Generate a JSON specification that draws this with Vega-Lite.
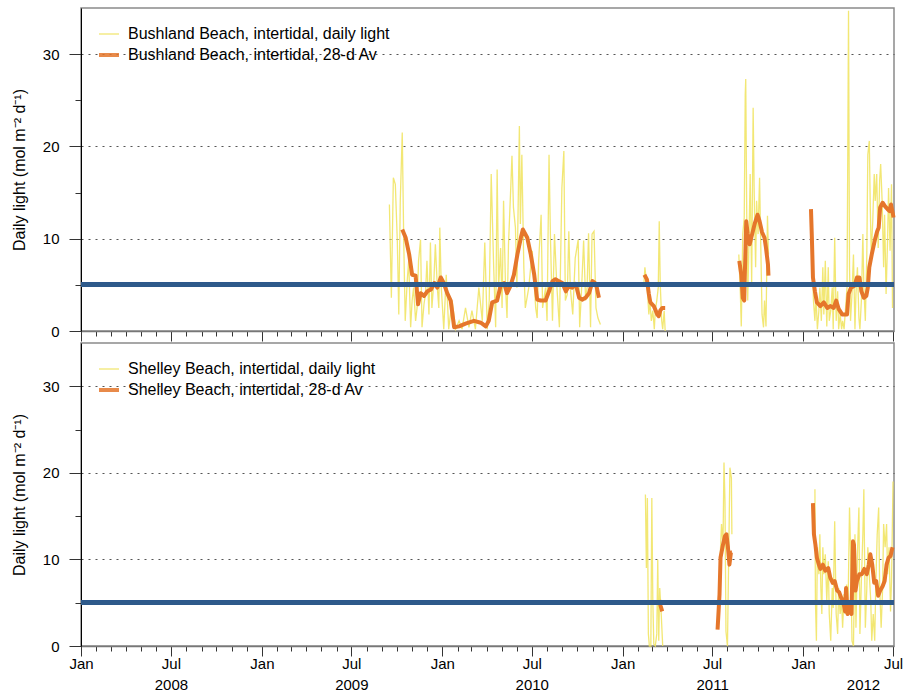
{
  "$schema": "https://vega.github.io/schema/vega-lite/v6.json",
  "background": "white",
  "padding": {"left": 10, "top": 7, "right": 2, "bottom": 0},
  "config": {
    "font": "Liberation Sans",
    "view": {"stroke": "#8a8a8a", "strokeWidth": 1.5},
    "axis": {"labelFont": "Liberation Sans", "labelFontSize": 15, "labelColor": "#000", "titleFont": "Liberation Sans", "titleFontSize": 16, "titleFontWeight": "normal", "titleColor": "#000"},
    "legend": {"labelFont": "Liberation Sans", "labelFontSize": 16, "labelColor": "#000", "labelLimit": 0}
  },
  "datasets": {
    "bushland": [
      {"series":"daily","seg":"A","date":"2009-09-16","value":13.7},
      {"series":"daily","seg":"A","date":"2009-09-20","value":3.6},
      {"series":"daily","seg":"A","date":"2009-09-24","value":16.6},
      {"series":"daily","seg":"A","date":"2009-09-28","value":15.9},
      {"series":"daily","seg":"A","date":"2009-10-02","value":9.8},
      {"series":"daily","seg":"A","date":"2009-10-05","value":1.8},
      {"series":"daily","seg":"A","date":"2009-10-08","value":14.1},
      {"series":"daily","seg":"A","date":"2009-10-12","value":21.5},
      {"series":"daily","seg":"A","date":"2009-10-15","value":9.8},
      {"series":"daily","seg":"A","date":"2009-10-18","value":1.1},
      {"series":"daily","seg":"A","date":"2009-10-22","value":5.4},
      {"series":"daily","seg":"A","date":"2009-10-25","value":7.6},
      {"series":"daily","seg":"A","date":"2009-10-29","value":0.4},
      {"series":"daily","seg":"A","date":"2009-11-01","value":3.3},
      {"series":"daily","seg":"A","date":"2009-11-04","value":4.7},
      {"series":"daily","seg":"A","date":"2009-11-08","value":1.1},
      {"series":"daily","seg":"A","date":"2009-11-11","value":2.5},
      {"series":"daily","seg":"A","date":"2009-11-14","value":7.6},
      {"series":"daily","seg":"A","date":"2009-11-18","value":9.9},
      {"series":"daily","seg":"A","date":"2009-11-21","value":0.4},
      {"series":"daily","seg":"A","date":"2009-11-25","value":2.9},
      {"series":"daily","seg":"A","date":"2009-11-28","value":4.0},
      {"series":"daily","seg":"A","date":"2009-12-01","value":7.6},
      {"series":"daily","seg":"A","date":"2009-12-05","value":1.8},
      {"series":"daily","seg":"A","date":"2009-12-08","value":9.6},
      {"series":"daily","seg":"A","date":"2009-12-11","value":2.5},
      {"series":"daily","seg":"A","date":"2009-12-15","value":5.4},
      {"series":"daily","seg":"A","date":"2009-12-18","value":9.4},
      {"series":"daily","seg":"A","date":"2009-12-22","value":4.7},
      {"series":"daily","seg":"A","date":"2009-12-25","value":2.5},
      {"series":"daily","seg":"A","date":"2009-12-27","value":11.2},
      {"series":"daily","seg":"A","date":"2009-12-30","value":4.7},
      {"series":"daily","seg":"A","date":"2010-01-04","value":0.2},
      {"series":"daily","seg":"A","date":"2010-01-09","value":6.1},
      {"series":"daily","seg":"A","date":"2010-01-14","value":0.2},
      {"series":"daily","seg":"A","date":"2010-01-21","value":3.3},
      {"series":"daily","seg":"A","date":"2010-01-28","value":0.2},
      {"series":"daily","seg":"A","date":"2010-02-04","value":1.1},
      {"series":"daily","seg":"A","date":"2010-02-10","value":0.2},
      {"series":"daily","seg":"A","date":"2010-02-17","value":2.5},
      {"series":"daily","seg":"A","date":"2010-02-24","value":0.4},
      {"series":"daily","seg":"A","date":"2010-03-02","value":2.2},
      {"series":"daily","seg":"A","date":"2010-03-09","value":0.2},
      {"series":"daily","seg":"A","date":"2010-03-16","value":4.7},
      {"series":"daily","seg":"A","date":"2010-03-23","value":1.1},
      {"series":"daily","seg":"A","date":"2010-03-28","value":9.6},
      {"series":"daily","seg":"A","date":"2010-04-02","value":0.2},
      {"series":"daily","seg":"A","date":"2010-04-06","value":3.3},
      {"series":"daily","seg":"A","date":"2010-04-10","value":17.0},
      {"series":"daily","seg":"A","date":"2010-04-15","value":6.9},
      {"series":"daily","seg":"A","date":"2010-04-19","value":0.4},
      {"series":"daily","seg":"A","date":"2010-04-22","value":17.5},
      {"series":"daily","seg":"A","date":"2010-04-25","value":4.7},
      {"series":"daily","seg":"A","date":"2010-04-29","value":9.0},
      {"series":"daily","seg":"A","date":"2010-05-02","value":2.5},
      {"series":"daily","seg":"A","date":"2010-05-05","value":14.1},
      {"series":"daily","seg":"A","date":"2010-05-09","value":4.7},
      {"series":"daily","seg":"A","date":"2010-05-12","value":1.4},
      {"series":"daily","seg":"A","date":"2010-05-15","value":9.4},
      {"series":"daily","seg":"A","date":"2010-05-19","value":14.8},
      {"series":"daily","seg":"A","date":"2010-05-22","value":19.0},
      {"series":"daily","seg":"A","date":"2010-05-25","value":13.4},
      {"series":"daily","seg":"A","date":"2010-05-29","value":11.2},
      {"series":"daily","seg":"A","date":"2010-06-01","value":4.7},
      {"series":"daily","seg":"A","date":"2010-06-06","value":22.2},
      {"series":"daily","seg":"A","date":"2010-06-08","value":11.6},
      {"series":"daily","seg":"A","date":"2010-06-11","value":19.1},
      {"series":"daily","seg":"A","date":"2010-06-15","value":6.9},
      {"series":"daily","seg":"A","date":"2010-06-18","value":2.5},
      {"series":"daily","seg":"A","date":"2010-06-25","value":4.7},
      {"series":"daily","seg":"A","date":"2010-07-02","value":8.7},
      {"series":"daily","seg":"A","date":"2010-07-09","value":2.5},
      {"series":"daily","seg":"A","date":"2010-07-12","value":1.4},
      {"series":"daily","seg":"A","date":"2010-07-15","value":7.6},
      {"series":"daily","seg":"A","date":"2010-07-20","value":12.6},
      {"series":"daily","seg":"A","date":"2010-07-23","value":2.5},
      {"series":"daily","seg":"A","date":"2010-07-29","value":4.7},
      {"series":"daily","seg":"A","date":"2010-08-01","value":1.1},
      {"series":"daily","seg":"A","date":"2010-08-05","value":19.1},
      {"series":"daily","seg":"A","date":"2010-08-08","value":9.8},
      {"series":"daily","seg":"A","date":"2010-08-12","value":1.1},
      {"series":"daily","seg":"A","date":"2010-08-16","value":10.5},
      {"series":"daily","seg":"A","date":"2010-08-21","value":4.7},
      {"series":"daily","seg":"A","date":"2010-08-26","value":0.4},
      {"series":"daily","seg":"A","date":"2010-08-31","value":15.5},
      {"series":"daily","seg":"A","date":"2010-09-04","value":19.5},
      {"series":"daily","seg":"A","date":"2010-09-07","value":3.3},
      {"series":"daily","seg":"A","date":"2010-09-11","value":4.0},
      {"series":"daily","seg":"A","date":"2010-09-14","value":10.8},
      {"series":"daily","seg":"A","date":"2010-09-17","value":4.7},
      {"series":"daily","seg":"A","date":"2010-09-22","value":1.8},
      {"series":"daily","seg":"A","date":"2010-09-27","value":7.9},
      {"series":"daily","seg":"A","date":"2010-10-03","value":9.9},
      {"series":"daily","seg":"A","date":"2010-10-06","value":0.4},
      {"series":"daily","seg":"A","date":"2010-10-10","value":4.7},
      {"series":"daily","seg":"A","date":"2010-10-14","value":9.8},
      {"series":"daily","seg":"A","date":"2010-10-18","value":3.3},
      {"series":"daily","seg":"A","date":"2010-10-21","value":4.7},
      {"series":"daily","seg":"A","date":"2010-10-24","value":10.6},
      {"series":"daily","seg":"A","date":"2010-10-28","value":0.4},
      {"series":"daily","seg":"A","date":"2010-10-31","value":10.5},
      {"series":"daily","seg":"A","date":"2010-11-04","value":10.8},
      {"series":"daily","seg":"A","date":"2010-11-08","value":2.5},
      {"series":"daily","seg":"A","date":"2010-11-12","value":1.4},
      {"series":"daily","seg":"A","date":"2010-11-17","value":0.7},
      {"series":"daily","seg":"B","date":"2011-02-13","value":5.1},
      {"series":"daily","seg":"B","date":"2011-02-15","value":6.9},
      {"series":"daily","seg":"B","date":"2011-02-17","value":5.8},
      {"series":"daily","seg":"B","date":"2011-02-20","value":4.3},
      {"series":"daily","seg":"B","date":"2011-02-23","value":1.8},
      {"series":"daily","seg":"B","date":"2011-02-25","value":3.3},
      {"series":"daily","seg":"B","date":"2011-02-28","value":1.1},
      {"series":"daily","seg":"B","date":"2011-03-03","value":2.2},
      {"series":"daily","seg":"B","date":"2011-03-06","value":0.2},
      {"series":"daily","seg":"B","date":"2011-03-08","value":2.2},
      {"series":"daily","seg":"B","date":"2011-03-11","value":3.3},
      {"series":"daily","seg":"B","date":"2011-03-14","value":4.7},
      {"series":"daily","seg":"B","date":"2011-03-16","value":11.9},
      {"series":"daily","seg":"B","date":"2011-03-18","value":5.1},
      {"series":"daily","seg":"B","date":"2011-03-21","value":1.1},
      {"series":"daily","seg":"B","date":"2011-03-23","value":0.2},
      {"series":"daily","seg":"B","date":"2011-03-26","value":2.2},
      {"series":"daily","seg":"B","date":"2011-03-28","value":0.0},
      {"series":"daily","seg":"C","date":"2011-08-24","value":8.3},
      {"series":"daily","seg":"C","date":"2011-08-27","value":4.3},
      {"series":"daily","seg":"C","date":"2011-08-29","value":0.5},
      {"series":"daily","seg":"C","date":"2011-09-01","value":10.5},
      {"series":"daily","seg":"C","date":"2011-09-04","value":12.3},
      {"series":"daily","seg":"C","date":"2011-09-06","value":25.6},
      {"series":"daily","seg":"C","date":"2011-09-07","value":27.3},
      {"series":"daily","seg":"C","date":"2011-09-09","value":12.6},
      {"series":"daily","seg":"C","date":"2011-09-11","value":3.3},
      {"series":"daily","seg":"C","date":"2011-09-13","value":8.3},
      {"series":"daily","seg":"C","date":"2011-09-16","value":17.0},
      {"series":"daily","seg":"C","date":"2011-09-19","value":5.1},
      {"series":"daily","seg":"C","date":"2011-09-22","value":24.2},
      {"series":"daily","seg":"C","date":"2011-09-24","value":15.5},
      {"series":"daily","seg":"C","date":"2011-09-27","value":6.9},
      {"series":"daily","seg":"C","date":"2011-09-29","value":14.1},
      {"series":"daily","seg":"C","date":"2011-10-02","value":10.5},
      {"series":"daily","seg":"C","date":"2011-10-05","value":16.6},
      {"series":"daily","seg":"C","date":"2011-10-07","value":10.5},
      {"series":"daily","seg":"C","date":"2011-10-10","value":1.8},
      {"series":"daily","seg":"C","date":"2011-10-13","value":0.4},
      {"series":"daily","seg":"C","date":"2011-10-15","value":3.3},
      {"series":"daily","seg":"C","date":"2011-10-18","value":0.5},
      {"series":"daily","seg":"C","date":"2011-10-21","value":12.5},
      {"series":"daily","seg":"C","date":"2011-10-23","value":8.3},
      {"series":"daily","seg":"D","date":"2012-01-19","value":10.5},
      {"series":"daily","seg":"D","date":"2012-01-22","value":3.3},
      {"series":"daily","seg":"D","date":"2012-01-25","value":1.1},
      {"series":"daily","seg":"D","date":"2012-01-27","value":4.0},
      {"series":"daily","seg":"D","date":"2012-01-30","value":0.2},
      {"series":"daily","seg":"D","date":"2012-02-02","value":2.2},
      {"series":"daily","seg":"D","date":"2012-02-04","value":4.7},
      {"series":"daily","seg":"D","date":"2012-02-07","value":1.1},
      {"series":"daily","seg":"D","date":"2012-02-10","value":6.9},
      {"series":"daily","seg":"D","date":"2012-02-12","value":1.8},
      {"series":"daily","seg":"D","date":"2012-02-15","value":7.6},
      {"series":"daily","seg":"D","date":"2012-02-18","value":0.5},
      {"series":"daily","seg":"D","date":"2012-02-21","value":6.9},
      {"series":"daily","seg":"D","date":"2012-02-23","value":1.1},
      {"series":"daily","seg":"D","date":"2012-02-26","value":2.2},
      {"series":"daily","seg":"D","date":"2012-02-29","value":4.7},
      {"series":"daily","seg":"D","date":"2012-03-02","value":0.2},
      {"series":"daily","seg":"D","date":"2012-03-05","value":10.1},
      {"series":"daily","seg":"D","date":"2012-03-08","value":1.1},
      {"series":"daily","seg":"D","date":"2012-03-11","value":4.3},
      {"series":"daily","seg":"D","date":"2012-03-13","value":0.2},
      {"series":"daily","seg":"D","date":"2012-03-16","value":1.8},
      {"series":"daily","seg":"D","date":"2012-03-19","value":0.2},
      {"series":"daily","seg":"D","date":"2012-03-21","value":1.1},
      {"series":"daily","seg":"D","date":"2012-03-24","value":0.2},
      {"series":"daily","seg":"D","date":"2012-03-27","value":2.5},
      {"series":"daily","seg":"D","date":"2012-03-30","value":4.7},
      {"series":"daily","seg":"D","date":"2012-04-02","value":34.7},
      {"series":"daily","seg":"D","date":"2012-04-04","value":6.9},
      {"series":"daily","seg":"D","date":"2012-04-06","value":1.1},
      {"series":"daily","seg":"D","date":"2012-04-09","value":4.0},
      {"series":"daily","seg":"D","date":"2012-04-12","value":8.3},
      {"series":"daily","seg":"D","date":"2012-04-15","value":0.2},
      {"series":"daily","seg":"D","date":"2012-04-17","value":4.0},
      {"series":"daily","seg":"D","date":"2012-04-20","value":6.9},
      {"series":"daily","seg":"D","date":"2012-04-23","value":1.4},
      {"series":"daily","seg":"D","date":"2012-04-25","value":0.2},
      {"series":"daily","seg":"D","date":"2012-04-28","value":3.3},
      {"series":"daily","seg":"D","date":"2012-05-01","value":10.5},
      {"series":"daily","seg":"D","date":"2012-05-03","value":4.7},
      {"series":"daily","seg":"D","date":"2012-05-06","value":1.1},
      {"series":"daily","seg":"D","date":"2012-05-09","value":8.3},
      {"series":"daily","seg":"D","date":"2012-05-11","value":19.1},
      {"series":"daily","seg":"D","date":"2012-05-14","value":20.6},
      {"series":"daily","seg":"D","date":"2012-05-16","value":13.4},
      {"series":"daily","seg":"D","date":"2012-05-18","value":8.3},
      {"series":"daily","seg":"D","date":"2012-05-21","value":11.9},
      {"series":"daily","seg":"D","date":"2012-05-24","value":17.0},
      {"series":"daily","seg":"D","date":"2012-05-26","value":14.1},
      {"series":"daily","seg":"D","date":"2012-05-29","value":17.0},
      {"series":"daily","seg":"D","date":"2012-06-01","value":9.0},
      {"series":"daily","seg":"D","date":"2012-06-04","value":16.3},
      {"series":"daily","seg":"D","date":"2012-06-06","value":18.1},
      {"series":"daily","seg":"D","date":"2012-06-09","value":14.1},
      {"series":"daily","seg":"D","date":"2012-06-12","value":6.9},
      {"series":"daily","seg":"D","date":"2012-06-14","value":12.6},
      {"series":"daily","seg":"D","date":"2012-06-17","value":4.0},
      {"series":"daily","seg":"D","date":"2012-06-20","value":9.8},
      {"series":"daily","seg":"D","date":"2012-06-22","value":15.5},
      {"series":"daily","seg":"D","date":"2012-06-25","value":8.7},
      {"series":"daily","seg":"D","date":"2012-06-28","value":15.9},
      {"series":"daily","seg":"D","date":"2012-06-30","value":2.5},
      {"series":"avg","seg":"A","date":"2009-10-12","value":11.0},
      {"series":"avg","seg":"A","date":"2009-10-19","value":10.1},
      {"series":"avg","seg":"A","date":"2009-10-26","value":8.3},
      {"series":"avg","seg":"A","date":"2009-11-01","value":6.1},
      {"series":"avg","seg":"A","date":"2009-11-08","value":6.0},
      {"series":"avg","seg":"A","date":"2009-11-13","value":2.9},
      {"series":"avg","seg":"A","date":"2009-11-18","value":4.1},
      {"series":"avg","seg":"A","date":"2009-11-25","value":3.8},
      {"series":"avg","seg":"A","date":"2009-12-02","value":4.3},
      {"series":"avg","seg":"A","date":"2009-12-09","value":4.5},
      {"series":"avg","seg":"A","date":"2009-12-16","value":5.2},
      {"series":"avg","seg":"A","date":"2009-12-22","value":4.7},
      {"series":"avg","seg":"A","date":"2009-12-29","value":5.8},
      {"series":"avg","seg":"A","date":"2010-01-04","value":5.2},
      {"series":"avg","seg":"A","date":"2010-01-11","value":4.1},
      {"series":"avg","seg":"A","date":"2010-01-18","value":3.3},
      {"series":"avg","seg":"A","date":"2010-01-25","value":0.4},
      {"series":"avg","seg":"A","date":"2010-02-04","value":0.5},
      {"series":"avg","seg":"A","date":"2010-02-17","value":0.8},
      {"series":"avg","seg":"A","date":"2010-03-06","value":1.1},
      {"series":"avg","seg":"A","date":"2010-03-20","value":0.9},
      {"series":"avg","seg":"A","date":"2010-03-30","value":0.5},
      {"series":"avg","seg":"A","date":"2010-04-05","value":1.1},
      {"series":"avg","seg":"A","date":"2010-04-12","value":3.1},
      {"series":"avg","seg":"A","date":"2010-04-22","value":3.3},
      {"series":"avg","seg":"A","date":"2010-04-29","value":4.9},
      {"series":"avg","seg":"A","date":"2010-05-06","value":5.2},
      {"series":"avg","seg":"A","date":"2010-05-12","value":4.1},
      {"series":"avg","seg":"A","date":"2010-05-19","value":4.9},
      {"series":"avg","seg":"A","date":"2010-05-26","value":6.1},
      {"series":"avg","seg":"A","date":"2010-06-02","value":8.3},
      {"series":"avg","seg":"A","date":"2010-06-09","value":10.1},
      {"series":"avg","seg":"A","date":"2010-06-13","value":11.0},
      {"series":"avg","seg":"A","date":"2010-06-22","value":10.1},
      {"series":"avg","seg":"A","date":"2010-06-29","value":8.3},
      {"series":"avg","seg":"A","date":"2010-07-06","value":6.1},
      {"series":"avg","seg":"A","date":"2010-07-12","value":3.4},
      {"series":"avg","seg":"A","date":"2010-07-19","value":3.3},
      {"series":"avg","seg":"A","date":"2010-07-29","value":3.3},
      {"series":"avg","seg":"A","date":"2010-08-05","value":4.3},
      {"series":"avg","seg":"A","date":"2010-08-12","value":5.4},
      {"series":"avg","seg":"A","date":"2010-08-18","value":5.6},
      {"series":"avg","seg":"A","date":"2010-08-25","value":5.4},
      {"series":"avg","seg":"A","date":"2010-09-01","value":5.2},
      {"series":"avg","seg":"A","date":"2010-09-08","value":4.3},
      {"series":"avg","seg":"A","date":"2010-09-14","value":4.9},
      {"series":"avg","seg":"A","date":"2010-09-21","value":4.7},
      {"series":"avg","seg":"A","date":"2010-09-28","value":5.1},
      {"series":"avg","seg":"A","date":"2010-10-05","value":3.6},
      {"series":"avg","seg":"A","date":"2010-10-11","value":3.4},
      {"series":"avg","seg":"A","date":"2010-10-18","value":3.6},
      {"series":"avg","seg":"A","date":"2010-10-25","value":4.1},
      {"series":"avg","seg":"A","date":"2010-11-01","value":5.4},
      {"series":"avg","seg":"A","date":"2010-11-08","value":5.1},
      {"series":"avg","seg":"A","date":"2010-11-14","value":3.6},
      {"series":"avg","seg":"B","date":"2011-02-14","value":6.1},
      {"series":"avg","seg":"B","date":"2011-02-19","value":5.6},
      {"series":"avg","seg":"B","date":"2011-02-23","value":4.0},
      {"series":"avg","seg":"B","date":"2011-02-26","value":3.1},
      {"series":"avg","seg":"B","date":"2011-03-05","value":2.7},
      {"series":"avg","seg":"B","date":"2011-03-12","value":1.8},
      {"series":"avg","seg":"B","date":"2011-03-15","value":1.6},
      {"series":"avg","seg":"B","date":"2011-03-18","value":2.2},
      {"series":"avg","seg":"B","date":"2011-03-22","value":2.5},
      {"series":"avg","seg":"B","date":"2011-03-28","value":2.5},
      {"series":"avg","seg":"C","date":"2011-08-25","value":7.6},
      {"series":"avg","seg":"C","date":"2011-08-29","value":6.1},
      {"series":"avg","seg":"C","date":"2011-09-01","value":3.6},
      {"series":"avg","seg":"C","date":"2011-09-04","value":3.3},
      {"series":"avg","seg":"C","date":"2011-09-05","value":5.8},
      {"series":"avg","seg":"C","date":"2011-09-08","value":11.9},
      {"series":"avg","seg":"C","date":"2011-09-11","value":10.5},
      {"series":"avg","seg":"C","date":"2011-09-15","value":9.4},
      {"series":"avg","seg":"C","date":"2011-09-20","value":10.5},
      {"series":"avg","seg":"C","date":"2011-09-25","value":11.6},
      {"series":"avg","seg":"C","date":"2011-10-01","value":12.6},
      {"series":"avg","seg":"C","date":"2011-10-05","value":11.9},
      {"series":"avg","seg":"C","date":"2011-10-10","value":10.7},
      {"series":"avg","seg":"C","date":"2011-10-15","value":10.1},
      {"series":"avg","seg":"C","date":"2011-10-18","value":9.0},
      {"series":"avg","seg":"C","date":"2011-10-22","value":7.2},
      {"series":"avg","seg":"C","date":"2011-10-23","value":6.0},
      {"series":"avg","seg":"D","date":"2012-01-17","value":13.2},
      {"series":"avg","seg":"D","date":"2012-01-19","value":9.8},
      {"series":"avg","seg":"D","date":"2012-01-21","value":5.8},
      {"series":"avg","seg":"D","date":"2012-01-25","value":4.3},
      {"series":"avg","seg":"D","date":"2012-01-29","value":3.1},
      {"series":"avg","seg":"D","date":"2012-02-05","value":2.7},
      {"series":"avg","seg":"D","date":"2012-02-12","value":3.1},
      {"series":"avg","seg":"D","date":"2012-02-19","value":2.5},
      {"series":"avg","seg":"D","date":"2012-02-25","value":2.7},
      {"series":"avg","seg":"D","date":"2012-03-03","value":2.5},
      {"series":"avg","seg":"D","date":"2012-03-08","value":3.3},
      {"series":"avg","seg":"D","date":"2012-03-13","value":2.4},
      {"series":"avg","seg":"D","date":"2012-03-20","value":1.8},
      {"series":"avg","seg":"D","date":"2012-03-30","value":1.8},
      {"series":"avg","seg":"D","date":"2012-04-02","value":4.0},
      {"series":"avg","seg":"D","date":"2012-04-07","value":4.7},
      {"series":"avg","seg":"D","date":"2012-04-14","value":4.9},
      {"series":"avg","seg":"D","date":"2012-04-19","value":5.8},
      {"series":"avg","seg":"D","date":"2012-04-24","value":5.8},
      {"series":"avg","seg":"D","date":"2012-04-28","value":4.3},
      {"series":"avg","seg":"D","date":"2012-05-03","value":3.6},
      {"series":"avg","seg":"D","date":"2012-05-08","value":3.8},
      {"series":"avg","seg":"D","date":"2012-05-11","value":4.7},
      {"series":"avg","seg":"D","date":"2012-05-14","value":6.9},
      {"series":"avg","seg":"D","date":"2012-05-19","value":8.3},
      {"series":"avg","seg":"D","date":"2012-05-25","value":9.8},
      {"series":"avg","seg":"D","date":"2012-05-30","value":10.8},
      {"series":"avg","seg":"D","date":"2012-06-02","value":11.2},
      {"series":"avg","seg":"D","date":"2012-06-05","value":13.4},
      {"series":"avg","seg":"D","date":"2012-06-10","value":13.9},
      {"series":"avg","seg":"D","date":"2012-06-15","value":13.5},
      {"series":"avg","seg":"D","date":"2012-06-20","value":13.2},
      {"series":"avg","seg":"D","date":"2012-06-24","value":13.0},
      {"series":"avg","seg":"D","date":"2012-06-27","value":13.7},
      {"series":"avg","seg":"D","date":"2012-07-01","value":12.6},
      {"series":"avg","seg":"D","date":"2012-07-02","value":12.3}
    ],
    "shelley": [
      {"series":"daily","seg":"E","date":"2011-02-16","value":17.5},
      {"series":"daily","seg":"E","date":"2011-02-18","value":9.0},
      {"series":"daily","seg":"E","date":"2011-02-20","value":17.1},
      {"series":"daily","seg":"E","date":"2011-02-22","value":1.4},
      {"series":"daily","seg":"E","date":"2011-02-24","value":0.0},
      {"series":"daily","seg":"E","date":"2011-02-27","value":0.0},
      {"series":"daily","seg":"E","date":"2011-03-01","value":17.1},
      {"series":"daily","seg":"E","date":"2011-03-03","value":5.2},
      {"series":"daily","seg":"E","date":"2011-03-05","value":0.2},
      {"series":"daily","seg":"E","date":"2011-03-08","value":0.0},
      {"series":"daily","seg":"E","date":"2011-03-11","value":1.4},
      {"series":"daily","seg":"E","date":"2011-03-13","value":10.0},
      {"series":"daily","seg":"E","date":"2011-03-15","value":0.6},
      {"series":"daily","seg":"E","date":"2011-03-17","value":6.7},
      {"series":"daily","seg":"E","date":"2011-03-20","value":3.7},
      {"series":"daily","seg":"E","date":"2011-03-23","value":0.0},
      {"series":"daily","seg":"F","date":"2011-07-14","value":2.9},
      {"series":"daily","seg":"F","date":"2011-07-17","value":9.8},
      {"series":"daily","seg":"F","date":"2011-07-20","value":14.1},
      {"series":"daily","seg":"F","date":"2011-07-23","value":11.7},
      {"series":"daily","seg":"F","date":"2011-07-25","value":21.2},
      {"series":"daily","seg":"F","date":"2011-07-27","value":16.7},
      {"series":"daily","seg":"F","date":"2011-07-29","value":1.7},
      {"series":"daily","seg":"F","date":"2011-08-01","value":0.0},
      {"series":"daily","seg":"F","date":"2011-08-04","value":12.1},
      {"series":"daily","seg":"F","date":"2011-08-06","value":20.6},
      {"series":"daily","seg":"F","date":"2011-08-09","value":19.4},
      {"series":"daily","seg":"F","date":"2011-08-10","value":12.9},
      {"series":"daily","seg":"G","date":"2012-01-25","value":18.1},
      {"series":"daily","seg":"G","date":"2012-01-26","value":5.2},
      {"series":"daily","seg":"G","date":"2012-01-28","value":0.6},
      {"series":"daily","seg":"G","date":"2012-01-30","value":11.4},
      {"series":"daily","seg":"G","date":"2012-02-02","value":8.3},
      {"series":"daily","seg":"G","date":"2012-02-04","value":12.9},
      {"series":"daily","seg":"G","date":"2012-02-06","value":6.7},
      {"series":"daily","seg":"G","date":"2012-02-08","value":3.7},
      {"series":"daily","seg":"G","date":"2012-02-10","value":11.4},
      {"series":"daily","seg":"G","date":"2012-02-12","value":8.3},
      {"series":"daily","seg":"G","date":"2012-02-15","value":10.6},
      {"series":"daily","seg":"G","date":"2012-02-18","value":5.2},
      {"series":"daily","seg":"G","date":"2012-02-21","value":9.8},
      {"series":"daily","seg":"G","date":"2012-02-23","value":3.7},
      {"series":"daily","seg":"G","date":"2012-02-26","value":0.6},
      {"series":"daily","seg":"G","date":"2012-02-29","value":6.7},
      {"series":"daily","seg":"G","date":"2012-03-02","value":4.4},
      {"series":"daily","seg":"G","date":"2012-03-05","value":14.4},
      {"series":"daily","seg":"G","date":"2012-03-08","value":3.7},
      {"series":"daily","seg":"G","date":"2012-03-11","value":1.4},
      {"series":"daily","seg":"G","date":"2012-03-13","value":6.7},
      {"series":"daily","seg":"G","date":"2012-03-16","value":3.7},
      {"series":"daily","seg":"G","date":"2012-03-19","value":5.2},
      {"series":"daily","seg":"G","date":"2012-03-21","value":2.1},
      {"series":"daily","seg":"G","date":"2012-03-24","value":6.0},
      {"series":"daily","seg":"G","date":"2012-03-27","value":3.7},
      {"series":"daily","seg":"G","date":"2012-03-29","value":7.1},
      {"series":"daily","seg":"G","date":"2012-04-01","value":4.4},
      {"series":"daily","seg":"G","date":"2012-04-04","value":16.0},
      {"series":"daily","seg":"G","date":"2012-04-06","value":11.4},
      {"series":"daily","seg":"G","date":"2012-04-09","value":0.6},
      {"series":"daily","seg":"G","date":"2012-04-12","value":0.0},
      {"series":"daily","seg":"G","date":"2012-04-15","value":12.9},
      {"series":"daily","seg":"G","date":"2012-04-17","value":2.1},
      {"series":"daily","seg":"G","date":"2012-04-20","value":10.6},
      {"series":"daily","seg":"G","date":"2012-04-23","value":16.0},
      {"series":"daily","seg":"G","date":"2012-04-25","value":1.4},
      {"series":"daily","seg":"G","date":"2012-04-28","value":7.5},
      {"series":"daily","seg":"G","date":"2012-05-01","value":12.9},
      {"series":"daily","seg":"G","date":"2012-05-03","value":18.1},
      {"series":"daily","seg":"G","date":"2012-05-06","value":2.1},
      {"series":"daily","seg":"G","date":"2012-05-09","value":6.7},
      {"series":"daily","seg":"G","date":"2012-05-11","value":11.4},
      {"series":"daily","seg":"G","date":"2012-05-14","value":8.3},
      {"series":"daily","seg":"G","date":"2012-05-17","value":5.2},
      {"series":"daily","seg":"G","date":"2012-05-19","value":0.6},
      {"series":"daily","seg":"G","date":"2012-05-22","value":3.7},
      {"series":"daily","seg":"G","date":"2012-05-25","value":0.6},
      {"series":"daily","seg":"G","date":"2012-05-27","value":6.7},
      {"series":"daily","seg":"G","date":"2012-05-30","value":12.9},
      {"series":"daily","seg":"G","date":"2012-06-02","value":16.0},
      {"series":"daily","seg":"G","date":"2012-06-04","value":6.7},
      {"series":"daily","seg":"G","date":"2012-06-07","value":2.1},
      {"series":"daily","seg":"G","date":"2012-06-10","value":6.7},
      {"series":"daily","seg":"G","date":"2012-06-12","value":14.1},
      {"series":"daily","seg":"G","date":"2012-06-15","value":11.4},
      {"series":"daily","seg":"G","date":"2012-06-18","value":14.1},
      {"series":"daily","seg":"G","date":"2012-06-20","value":8.3},
      {"series":"daily","seg":"G","date":"2012-06-23","value":11.4},
      {"series":"daily","seg":"G","date":"2012-06-26","value":4.0},
      {"series":"daily","seg":"G","date":"2012-06-28","value":7.5},
      {"series":"daily","seg":"G","date":"2012-07-01","value":19.0},
      {"series":"avg","seg":"E","date":"2011-03-16","value":5.3},
      {"series":"avg","seg":"E","date":"2011-03-19","value":4.6},
      {"series":"avg","seg":"E","date":"2011-03-22","value":4.0},
      {"series":"avg","seg":"F","date":"2011-07-12","value":1.9},
      {"series":"avg","seg":"F","date":"2011-07-16","value":6.0},
      {"series":"avg","seg":"F","date":"2011-07-18","value":10.2},
      {"series":"avg","seg":"F","date":"2011-07-23","value":11.7},
      {"series":"avg","seg":"F","date":"2011-07-27","value":12.7},
      {"series":"avg","seg":"F","date":"2011-07-30","value":12.9},
      {"series":"avg","seg":"F","date":"2011-08-02","value":11.4},
      {"series":"avg","seg":"F","date":"2011-08-05","value":9.4},
      {"series":"avg","seg":"F","date":"2011-08-08","value":10.8},
      {"series":"avg","seg":"F","date":"2011-08-10","value":10.8},
      {"series":"avg","seg":"G","date":"2012-01-21","value":16.5},
      {"series":"avg","seg":"G","date":"2012-01-23","value":12.9},
      {"series":"avg","seg":"G","date":"2012-01-26","value":11.7},
      {"series":"avg","seg":"G","date":"2012-01-29","value":10.2},
      {"series":"avg","seg":"G","date":"2012-02-02","value":9.4},
      {"series":"avg","seg":"G","date":"2012-02-05","value":8.9},
      {"series":"avg","seg":"G","date":"2012-02-10","value":9.4},
      {"series":"avg","seg":"G","date":"2012-02-15","value":8.7},
      {"series":"avg","seg":"G","date":"2012-02-21","value":9.0},
      {"series":"avg","seg":"G","date":"2012-02-25","value":7.9},
      {"series":"avg","seg":"G","date":"2012-03-01","value":7.3},
      {"series":"avg","seg":"G","date":"2012-03-05","value":7.5},
      {"series":"avg","seg":"G","date":"2012-03-10","value":6.4},
      {"series":"avg","seg":"G","date":"2012-03-14","value":6.2},
      {"series":"avg","seg":"G","date":"2012-03-18","value":5.6},
      {"series":"avg","seg":"G","date":"2012-03-22","value":5.2},
      {"series":"avg","seg":"G","date":"2012-03-26","value":4.0},
      {"series":"avg","seg":"G","date":"2012-03-28","value":6.7},
      {"series":"avg","seg":"G","date":"2012-03-31","value":3.7},
      {"series":"avg","seg":"G","date":"2012-04-04","value":4.8},
      {"series":"avg","seg":"G","date":"2012-04-08","value":3.7},
      {"series":"avg","seg":"G","date":"2012-04-11","value":12.1},
      {"series":"avg","seg":"G","date":"2012-04-13","value":11.7},
      {"series":"avg","seg":"G","date":"2012-04-16","value":6.4},
      {"series":"avg","seg":"G","date":"2012-04-19","value":7.5},
      {"series":"avg","seg":"G","date":"2012-04-24","value":8.3},
      {"series":"avg","seg":"G","date":"2012-04-29","value":8.3},
      {"series":"avg","seg":"G","date":"2012-05-04","value":8.9},
      {"series":"avg","seg":"G","date":"2012-05-09","value":8.3},
      {"series":"avg","seg":"G","date":"2012-05-13","value":9.4},
      {"series":"avg","seg":"G","date":"2012-05-16","value":10.6},
      {"series":"avg","seg":"G","date":"2012-05-20","value":9.4},
      {"series":"avg","seg":"G","date":"2012-05-24","value":7.3},
      {"series":"avg","seg":"G","date":"2012-05-28","value":7.5},
      {"series":"avg","seg":"G","date":"2012-06-01","value":5.8},
      {"series":"avg","seg":"G","date":"2012-06-05","value":6.4},
      {"series":"avg","seg":"G","date":"2012-06-10","value":6.9},
      {"series":"avg","seg":"G","date":"2012-06-14","value":7.5},
      {"series":"avg","seg":"G","date":"2012-06-18","value":9.4},
      {"series":"avg","seg":"G","date":"2012-06-22","value":10.2},
      {"series":"avg","seg":"G","date":"2012-06-26","value":10.4},
      {"series":"avg","seg":"G","date":"2012-06-30","value":11.4}
    ]
  },
  "spacing": 12,
  "bounds": "flush",
  "resolve": {
    "scale": {"color": "independent", "strokeWidth": "independent", "y": "independent"},
    "legend": {"color": "independent", "strokeWidth": "independent"}
  },
  "vconcat": [
    {
      "width": 813,
      "height": 323,
      "data": {"name": "bushland"},
      "layer": [
        {
          "transform": [{"filter": "datum.series == 'daily'"}],
          "mark": {"type": "line", "opacity": 0.85, "strokeJoin": "miter"},
          "encoding": {
            "x": {"field": "date", "type": "temporal",
              "scale": {"type": "utc", "domain": [{"year": 2008, "month": 1, "date": 1, "utc": true}, {"year": 2012, "month": 7, "date": 3, "utc": true}]},
              "axis": {"title": null, "tickCount": {"interval": "month", "step": 1}, "labels": false, "grid": false, "domainColor": "#777", "domainWidth": 1.5, "tickColor": "#333",
                "tickSize": {"condition": {"test": "utcmonth(datum.value) % 6 == 0", "value": 10}, "value": 5}}},
            "y": {"field": "value", "type": "quantitative", "scale": {"domain": [0, 35], "nice": false},
              "axis": {"title": "Daily light (mol m⁻² d⁻¹)", "values": [0, 5, 10, 15, 20, 25, 30], "labelExpr": "datum.value % 10 == 0 ? datum.label : ''",
                "grid": true, "gridDash": [2, 5], "gridColor": "#555", "gridWidth": 1.2,
                "gridOpacity": {"condition": {"test": "datum.value % 10 == 0 && datum.value > 0", "value": 1}, "value": 0},
                "tickSize": {"condition": {"test": "datum.value % 10 == 0", "value": 12}, "value": 6},
                "tickColor": "#333", "domainColor": "#000", "labelPadding": 10, "titleX": -57, "titleBaseline": "alphabetic"}},
            "color": {"field": "series", "type": "nominal", "scale": {"domain": ["daily", "avg"], "range": ["#f0e35c", "#e5762b"]},
              "legend": {"title": null, "orient": "none", "legendX": 16, "legendY": 15, "symbolType": "stroke", "symbolSize": 400, "rowPadding": 1, "labelOffset": 7,
                "labelExpr": "datum.value == 'daily' ? 'Bushland Beach, intertidal, daily light' : 'Bushland Beach, intertidal, 28-d Av'"}},
            "strokeWidth": {"field": "series", "type": "nominal", "scale": {"type": "point", "padding": 0, "domain": ["daily", "avg"], "range": [1.3, 4]},
              "legend": {"title": null, "orient": "none", "legendX": 16, "legendY": 15, "symbolType": "stroke", "symbolSize": 400, "rowPadding": 1, "labelOffset": 7,
                "labelExpr": "datum.value == 'daily' ? 'Bushland Beach, intertidal, daily light' : 'Bushland Beach, intertidal, 28-d Av'"}},
            "detail": {"field": "seg"}
          }
        },
        {
          "transform": [{"filter": "datum.series == 'avg'"}],
          "mark": {"type": "line", "strokeJoin": "round"},
          "encoding": {
            "x": {"field": "date", "type": "temporal"},
            "y": {"field": "value", "type": "quantitative"},
            "color": {"field": "series", "type": "nominal"},
            "strokeWidth": {"field": "series", "type": "nominal"},
            "detail": {"field": "seg"}
          }
        },
        {
          "mark": {"type": "rule", "color": "#2e5a8a", "strokeWidth": 4},
          "encoding": {"y": {"datum": 5}}
        }
      ]
    },
    {
      "width": 813,
      "height": 303,
      "data": {"name": "shelley"},
      "resolve": {"axis": {"x": "independent"}},
      "layer": [
        {
          "transform": [{"filter": "datum.series == 'daily'"}],
          "mark": {"type": "line", "opacity": 0.85, "strokeJoin": "miter"},
          "encoding": {
            "x": {"field": "date", "type": "temporal",
              "scale": {"type": "utc", "domain": [{"year": 2008, "month": 1, "date": 1, "utc": true}, {"year": 2012, "month": 7, "date": 3, "utc": true}]},
              "axis": {"title": null, "orient": "bottom", "tickCount": {"interval": "month", "step": 1}, "grid": false, "domainColor": "#777", "domainWidth": 1.5, "tickColor": "#333",
                "tickSize": {"condition": {"test": "utcmonth(datum.value) % 6 == 0", "value": 10}, "value": 5},
                "labelExpr": "utcmonth(datum.value) == 0 ? 'Jan' : (utcmonth(datum.value) == 6 ? 'Jul' : '')",
                "labelFlush": false, "labelOverlap": false, "labelPadding": 0, "labelBaseline": "top"}},
            "y": {"field": "value", "type": "quantitative", "scale": {"domain": [0, 35], "nice": false},
              "axis": {"title": "Daily light (mol m⁻² d⁻¹)", "values": [0, 5, 10, 15, 20, 25, 30], "labelExpr": "datum.value % 10 == 0 ? datum.label : ''",
                "grid": true, "gridDash": [2, 5], "gridColor": "#555", "gridWidth": 1.2,
                "gridOpacity": {"condition": {"test": "datum.value % 10 == 0 && datum.value > 0", "value": 1}, "value": 0},
                "tickSize": {"condition": {"test": "datum.value % 10 == 0", "value": 12}, "value": 6},
                "tickColor": "#333", "domainColor": "#000", "labelPadding": 10, "titleX": -57, "titleBaseline": "alphabetic"}},
            "color": {"field": "series", "type": "nominal", "scale": {"domain": ["daily", "avg"], "range": ["#f0e35c", "#e5762b"]},
              "legend": {"title": null, "orient": "none", "legendX": 16, "legendY": 15, "symbolType": "stroke", "symbolSize": 400, "rowPadding": 1, "labelOffset": 7,
                "labelExpr": "datum.value == 'daily' ? 'Shelley Beach, intertidal, daily light' : 'Shelley Beach, intertidal, 28-d Av'"}},
            "strokeWidth": {"field": "series", "type": "nominal", "scale": {"type": "point", "padding": 0, "domain": ["daily", "avg"], "range": [1.3, 4]},
              "legend": {"title": null, "orient": "none", "legendX": 16, "legendY": 15, "symbolType": "stroke", "symbolSize": 400, "rowPadding": 1, "labelOffset": 7,
                "labelExpr": "datum.value == 'daily' ? 'Shelley Beach, intertidal, daily light' : 'Shelley Beach, intertidal, 28-d Av'"}},
            "detail": {"field": "seg"}
          }
        },
        {
          "transform": [{"filter": "datum.series == 'avg'"}],
          "mark": {"type": "line", "strokeJoin": "round"},
          "encoding": {
            "x": {"field": "date", "type": "temporal",
              "axis": {"title": null, "orient": "bottom", "domain": false, "ticks": false, "grid": false, "tickSize": 0,
                "values": [{"year": 2008, "month": 7, "date": 1, "utc": true}, {"year": 2009, "month": 7, "date": 1, "utc": true}, {"year": 2010, "month": 7, "date": 1, "utc": true}, {"year": 2011, "month": 7, "date": 1, "utc": true}, {"year": 2012, "month": 7, "date": 1, "utc": true}],
                "labelExpr": "utcFormat(datum.value, '%Y')",
                "labelOffset": {"condition": {"test": "utcyear(datum.value) == 2012", "value": -30}, "value": 0},
                "labelFlush": false, "labelOverlap": false, "labelPadding": 31, "labelBaseline": "top"}},
            "y": {"field": "value", "type": "quantitative"},
            "color": {"field": "series", "type": "nominal"},
            "strokeWidth": {"field": "series", "type": "nominal"},
            "detail": {"field": "seg"}
          }
        },
        {
          "mark": {"type": "rule", "color": "#2e5a8a", "strokeWidth": 4},
          "encoding": {"y": {"datum": 5}}
        }
      ]
    }
  ]
}
